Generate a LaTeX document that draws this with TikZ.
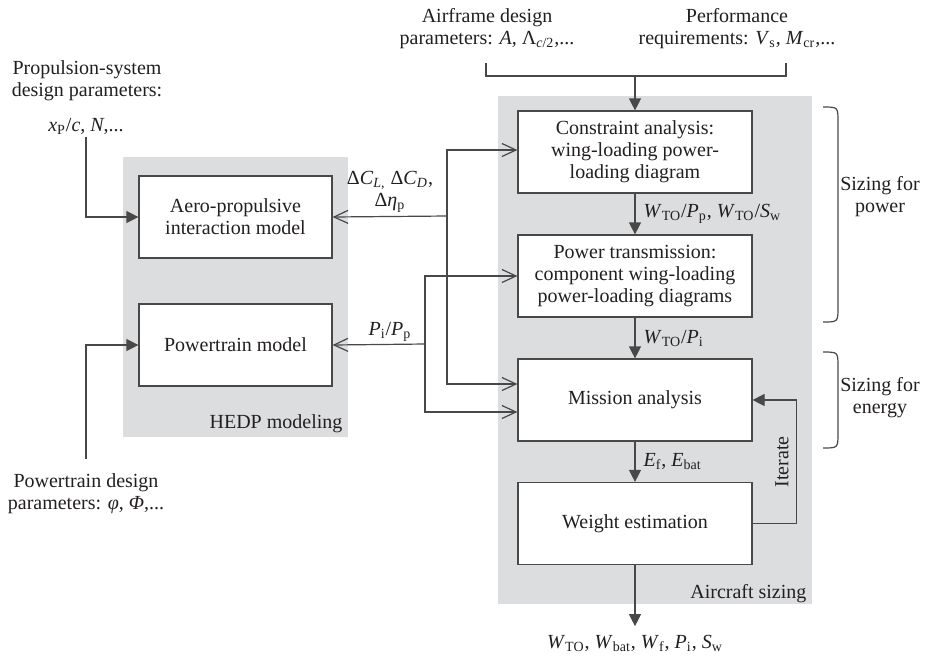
\documentclass[tikz,border=0pt]{standalone}
\usepackage{fontspec}
\setmainfont{Liberation Serif}
\usetikzlibrary{arrows.meta}

\definecolor{panelgray}{RGB}{220,221,223}
\definecolor{linegray}{RGB}{72,72,72}
\definecolor{inkgray}{RGB}{35,31,32}
\newcommand{\low}[1]{\textsubscript{#1}}

\begin{document}
\begin{tikzpicture}[x=0.5pt,y=-0.5pt,
  font=\fontsize{10}{11}\selectfont,color=linegray,text=inkgray,line width=0.6pt,
  block/.style={draw,fill=white,minimum width=117pt,minimum height=41pt,align=center,inner sep=2pt},
  model/.style={block,minimum width=96.5pt},
  label/.style={align=center,inner sep=1pt},
  flow/.style={-{Triangle[length=6pt,width=6pt]}},
  feed/.style={-{Straight Barb[length=7pt,width=6.5pt]}}]

  \useasboundingbox (0,0) rectangle (942,660);

  % shaded groups
  \fill[panelgray] (123,157) rectangle (348,437);
  \fill[panelgray] (498,96) rectangle (812,604);
  \node[anchor=base east,inner sep=0pt] (hedp) at (343,428) {HEDP modeling};
  \node[anchor=base east,inner sep=0pt] (sizing) at (807,598) {Aircraft sizing};

  % blocks
  \node[block] (constraint) at (635,152) {Constraint analysis:\\wing-loading power-\\loading diagram};
  \node[block] (transmission) at (635,276) {Power transmission:\\component wing-loading\\power-loading diagrams};
  \node[block] (mission) at (635,400) {Mission analysis};
  \node[block] (weight) at (635,523.5) {Weight estimation};
  \node[model] (aero) at (235.5,217) {Aero-propulsive\\interaction model};
  \node[model] (powertrain) at (235.5,345) {Powertrain model};

  % inputs and outputs
  \node[label] (airframe) at (487,29) {Airframe design\\parameters: \textit{A}, Λ\low{\textit{c}/2},...};
  \node[label] (performance) at (737,29) {Performance\\requirements: \textit{V}\low{s}, \textit{M}\low{cr},...};
  \node[label] (propulsion) at (87,81) {Propulsion-system\\design parameters:};
  \node[label] (propvars) at (86,126) {\textit{x}\low{P}/\textit{c}, \textit{N},...};
  \node[label] (ptdesign) at (86,494) {Powertrain design\\parameters: \textit{φ}, \textit{Φ},...};
  \node[anchor=base,inner sep=4pt] (results) at (635,648)
    {\textit{W}\low{TO}, \textit{W}\low{bat}, \textit{W}\low{f}, \textit{P}\low{i}, \textit{S}\low{w}};

  \coordinate (afoot) at (486,63);
  \coordinate (pfoot) at (786,63);
  \coordinate (merge) at (635,76);
  \draw (afoot) |- (merge) -| (pfoot);
  \draw[flow] (merge) -- (constraint);

  \draw[flow] (propvars.south) |- (aero.west);
  \draw[flow] ([yshift=6pt]ptdesign.north) |- (powertrain.west);

  % main sizing chain
  \draw[flow] (constraint) -- node[right,inner sep=4pt]
    {\textit{W}\low{TO}/\textit{P}\low{p}, \textit{W}\low{TO}/\textit{S}\low{w}} (transmission);
  \draw[flow] (transmission) -- node[right,inner sep=4pt] {\textit{W}\low{TO}/\textit{P}\low{i}} (mission);
  \draw[flow] (mission) -- node[right,inner sep=4pt] {\textit{E}\low{f}, \textit{E}\low{bat}} (weight);
  \draw[flow] (weight) -- (results);
  \draw[flow] (weight.east) -- ++(44,0) |- (mission.east);
  \node[rotate=90,inner sep=0pt] (iterate) at (782,462) {Iterate};

  % interaction and powertrain feedback
  \coordinate (aerobus) at (447,216);
  \coordinate (ptbus) at (425,344);
  \draw[feed] (aerobus) -- (aero.east);
  \draw[feed] (aerobus) |- ([yshift=1pt]constraint.west);
  \draw[feed] (aerobus) |- ([yshift=8pt]mission.west);
  \draw[feed] (ptbus) -- (powertrain.east);
  \draw[feed] (ptbus) |- (transmission.west);
  \draw[feed] (ptbus) |- ([yshift=-6pt]mission.west);
  \node[label] (aerovars) at (390,192) {Δ\textit{C}\low{\textit{L},} Δ\textit{C}\low{\textit{D}},\\Δ\textit{η}\low{p}};
  \node[label] (ptvars) at (390,332) {\textit{P}\low{i}/\textit{P}\low{p}};

  % brackets
  \draw (823,107) .. controls (838,107) .. (838,122) -- (838,307) .. controls (838,322) .. (823,322);
  \draw (823,352) .. controls (838,352) .. (838,367) -- (838,433) .. controls (838,448) .. (823,448);
  \node[label] (powerlabel) at (880,197) {Sizing for\\power};
  \node[label] (energylabel) at (880,398) {Sizing for\\energy};
\end{tikzpicture}
\end{document}
